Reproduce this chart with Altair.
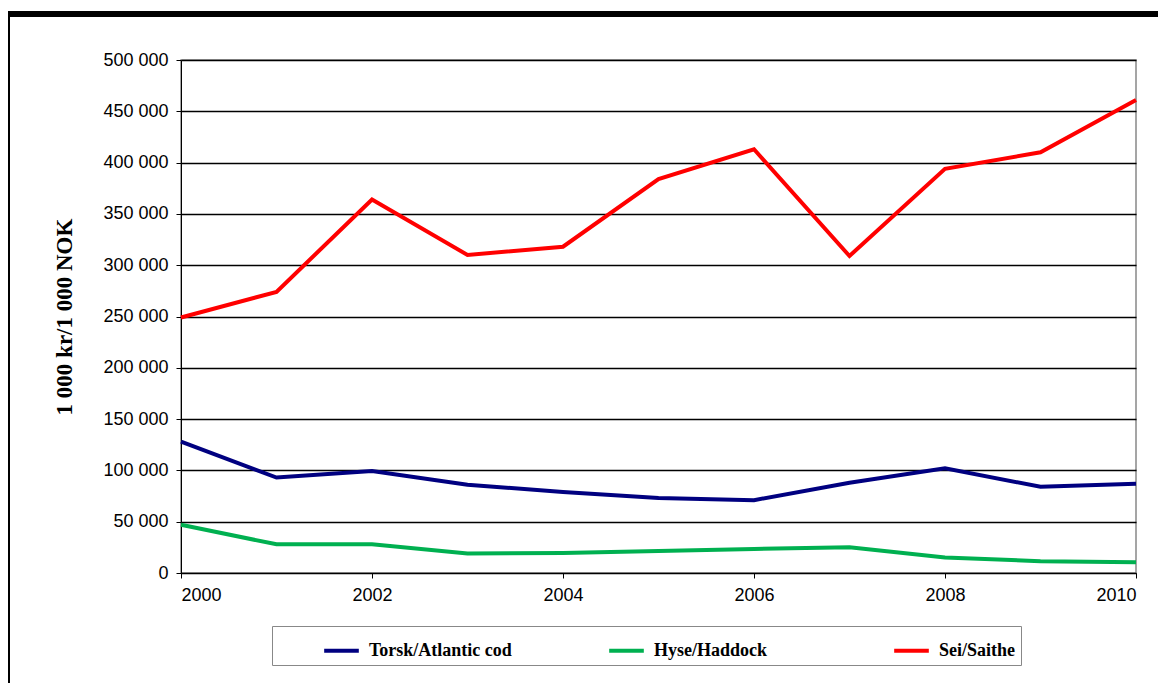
import altair as alt
import pandas as pd

years = list(range(2000, 2011))
cod = [128000, 93000, 99500, 86000, 79000, 73000, 71000, 88000, 102000, 84000, 87000]
haddock = [47000, 28000, 28000, 19000, 19500, 21500, 23500, 25000, 15000, 11500, 10500]
saithe = [249000, 274000, 364000, 310000, 318000, 384000, 413000, 309000, 394000, 410000, 461000]

names = ["Torsk/Atlantic cod", "Hyse/Haddock", "Sei/Saithe"]
colors = ["#000080", "#00b050", "#ff0000"]

rows = []
for name, vals in zip(names, [cod, haddock, saithe]):
    for y, v in zip(years, vals):
        rows.append({"year": y, "value": v, "species": name})
df = pd.DataFrame(rows)

W, H = 955, 513

lines = alt.Chart(df).mark_line(strokeWidth=4).encode(
    x=alt.X("year:Q", scale=alt.Scale(domain=[2000, 2010], nice=False),
            axis=alt.Axis(values=[2000, 2002, 2004, 2006, 2008, 2010], format="d",
                          title=None, grid=False, labelFontSize=18, labelPadding=8,
                          domainColor="black", tickColor="black")),
    y=alt.Y("value:Q", scale=alt.Scale(domain=[0, 500000], nice=False),
            axis=alt.Axis(values=list(range(0, 500001, 50000)),
                          labelExpr="replace(format(datum.value, ','), ',', ' ')",
                          title="1 000 kr/1 000 NOK", titleFont="Liberation Serif",
                          titleFontSize=23, titleFontWeight="bold", titlePadding=26,
                          labelFontSize=18, labelPadding=8, gridColor="black",
                          gridWidth=1.5, domainColor="black", tickColor="black")),
    color=alt.Color("species:N", sort=names,
                    scale=alt.Scale(domain=names, range=colors),
                    legend=alt.Legend(title=None, orient="none", legendX=91, legendY=566,
                                      direction="horizontal", columns=3, gridAlign="all",
                                      columnPadding=50, symbolType="stroke",
                                      symbolStrokeWidth=4, symbolSize=1200,
                                      symbolOffset=45,
                                      labelFont="Liberation Serif", labelFontSize=18,
                                      labelFontWeight="bold", labelLimit=300,
                                      padding=5, strokeColor="#888888",
                                      labelOffset=8)),
)

frame = pd.DataFrame({"x": [0]})
top_rule = alt.Chart(frame).mark_rule(color="black", strokeWidth=6).encode(
    x=alt.value(-173), x2=alt.value(W + 40), y=alt.value(-46))
left_rule = alt.Chart(frame).mark_rule(color="black", strokeWidth=2).encode(
    x=alt.value(-172), y=alt.value(-46), y2=alt.value(H + 120))

chart = alt.layer(top_rule, left_rule, lines).properties(
    width=W, height=H,
    autosize=alt.AutoSizeParams(type="none"),
    padding={"left": 173, "top": 52, "right": 22, "bottom": 110},
).configure(font="Liberation Sans").configure_view(stroke="#888888", strokeWidth=1.5)

chart.save("out.html", embed_options={"renderer": "svg", "actions": False})
